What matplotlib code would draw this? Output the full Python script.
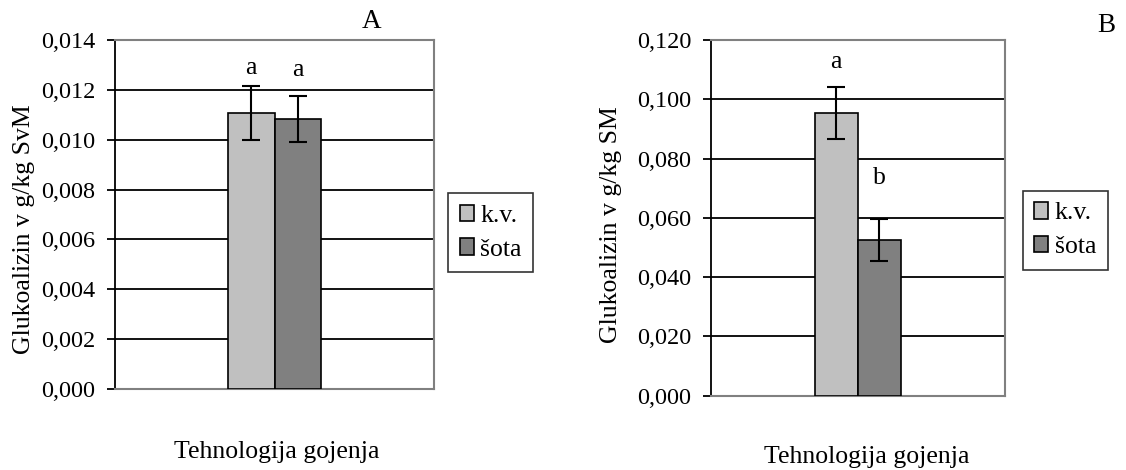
import matplotlib
matplotlib.use("Agg")
import matplotlib.pyplot as plt
from matplotlib.patches import Patch

plt.rcParams["font.family"] = ["Liberation Serif", "DejaVu Serif"]

series = ["k.v.", "šota"]
colors = ["#C0C0C0", "#808080"]

# panel A (g/kg SvM)
vals_a = [0.01107, 0.01084]
err_a = [0.00107, 0.00093]
letters_a = ["a", "a"]
ticks_a = [0.000, 0.002, 0.004, 0.006, 0.008, 0.010, 0.012, 0.014]

# panel B (g/kg SM)
vals_b = [0.0953, 0.0526]
err_b = [0.0087, 0.0071]
letters_b = ["a", "b"]
ticks_b = [0.000, 0.020, 0.040, 0.060, 0.080, 0.100, 0.120]

fig = plt.figure(figsize=(11.26, 4.70), dpi=100)
fs = 17.5
fs_lab = 18.5


def panel(rect, vals, err, letters, ticks, ylabel, ylab_xy, letter_y, tag, tag_xy,
          leg_xy, xl_xy):
    ax = fig.add_axes(rect)
    w = 0.146
    xs = [-w / 2, w / 2]
    for i in range(2):
        ax.bar(xs[i], vals[i], width=w, color=colors[i], edgecolor="black",
               linewidth=1.2, zorder=3)
        ax.errorbar(xs[i], vals[i], yerr=err[i], color="black", capsize=6.5,
                    elinewidth=1.5, capthick=1.5, zorder=4)
        ax.text(xs[i], letter_y[i], letters[i], ha="center", va="center",
                fontsize=fs_lab)
    ax.set_xlim(-0.5, 0.5)
    ax.set_ylim(ticks[0], ticks[-1])
    ax.set_yticks(ticks)
    ax.set_yticklabels([f"{t:.3f}".replace(".", ",") for t in ticks], fontsize=fs)
    ax.set_xticks([])
    for t in ticks[1:-1]:
        ax.axhline(t, color="black", linewidth=1.3, zorder=1)
    ax.spines["left"].set_color("black")
    ax.spines["left"].set_linewidth(1.3)
    for s in ["top", "right", "bottom"]:
        ax.spines[s].set_color("#808080")
        ax.spines[s].set_linewidth(1.5)
    ax.tick_params(axis="y", direction="out", length=6, width=1.3, pad=8)
    ax.set_ylabel(ylabel, fontsize=fs_lab)
    ax.yaxis.set_label_coords(*ylab_xy)
    fig.text(xl_xy[0], xl_xy[1], "Tehnologija gojenja", fontsize=fs_lab,
             ha="center", va="center")
    fig.text(tag_xy[0], tag_xy[1], tag, fontsize=fs_lab + 1, ha="center", va="center")
    handles = [Patch(facecolor=colors[i], edgecolor="black", linewidth=1.2,
                     label=series[i]) for i in range(2)]
    leg = fig.legend(handles=handles, loc="upper left", bbox_to_anchor=leg_xy,
                     bbox_transform=fig.transFigure, fontsize=fs_lab, frameon=True,
                     fancybox=False, handlelength=0.55, handleheight=0.6,
                     handletextpad=0.25, borderpad=0.45, labelspacing=0.45,
                     borderaxespad=0)
    leg.get_frame().set_edgecolor("black")
    leg.get_frame().set_linewidth(1.2)
    return ax


panel([115 / 1126, 81 / 470, 319 / 1126, 349 / 470], vals_a, err_a, letters_a,
      ticks_a, "Glukoalizin v g/kg SvM", (-0.251, 0.458), [0.01289, 0.01281], "A",
      (372 / 1126, 1 - 22 / 470), (448 / 1126, 1 - 193 / 470),
      (277 / 1126, 1 - 452 / 470))

panel([710.7 / 1126, 74.3 / 470, 294.3 / 1126, 355.7 / 470], vals_b, err_b,
      letters_b, ticks_b, "Glukoalizin v g/kg SM", (-0.302, 0.48), [0.1127, 0.0733],
      "B", (1106 / 1126, 1 - 25 / 470), (1022.7 / 1126, 1 - 190.7 / 470),
      (866.7 / 1126, 1 - 457 / 470))

fig.savefig("out.png", dpi=100)
